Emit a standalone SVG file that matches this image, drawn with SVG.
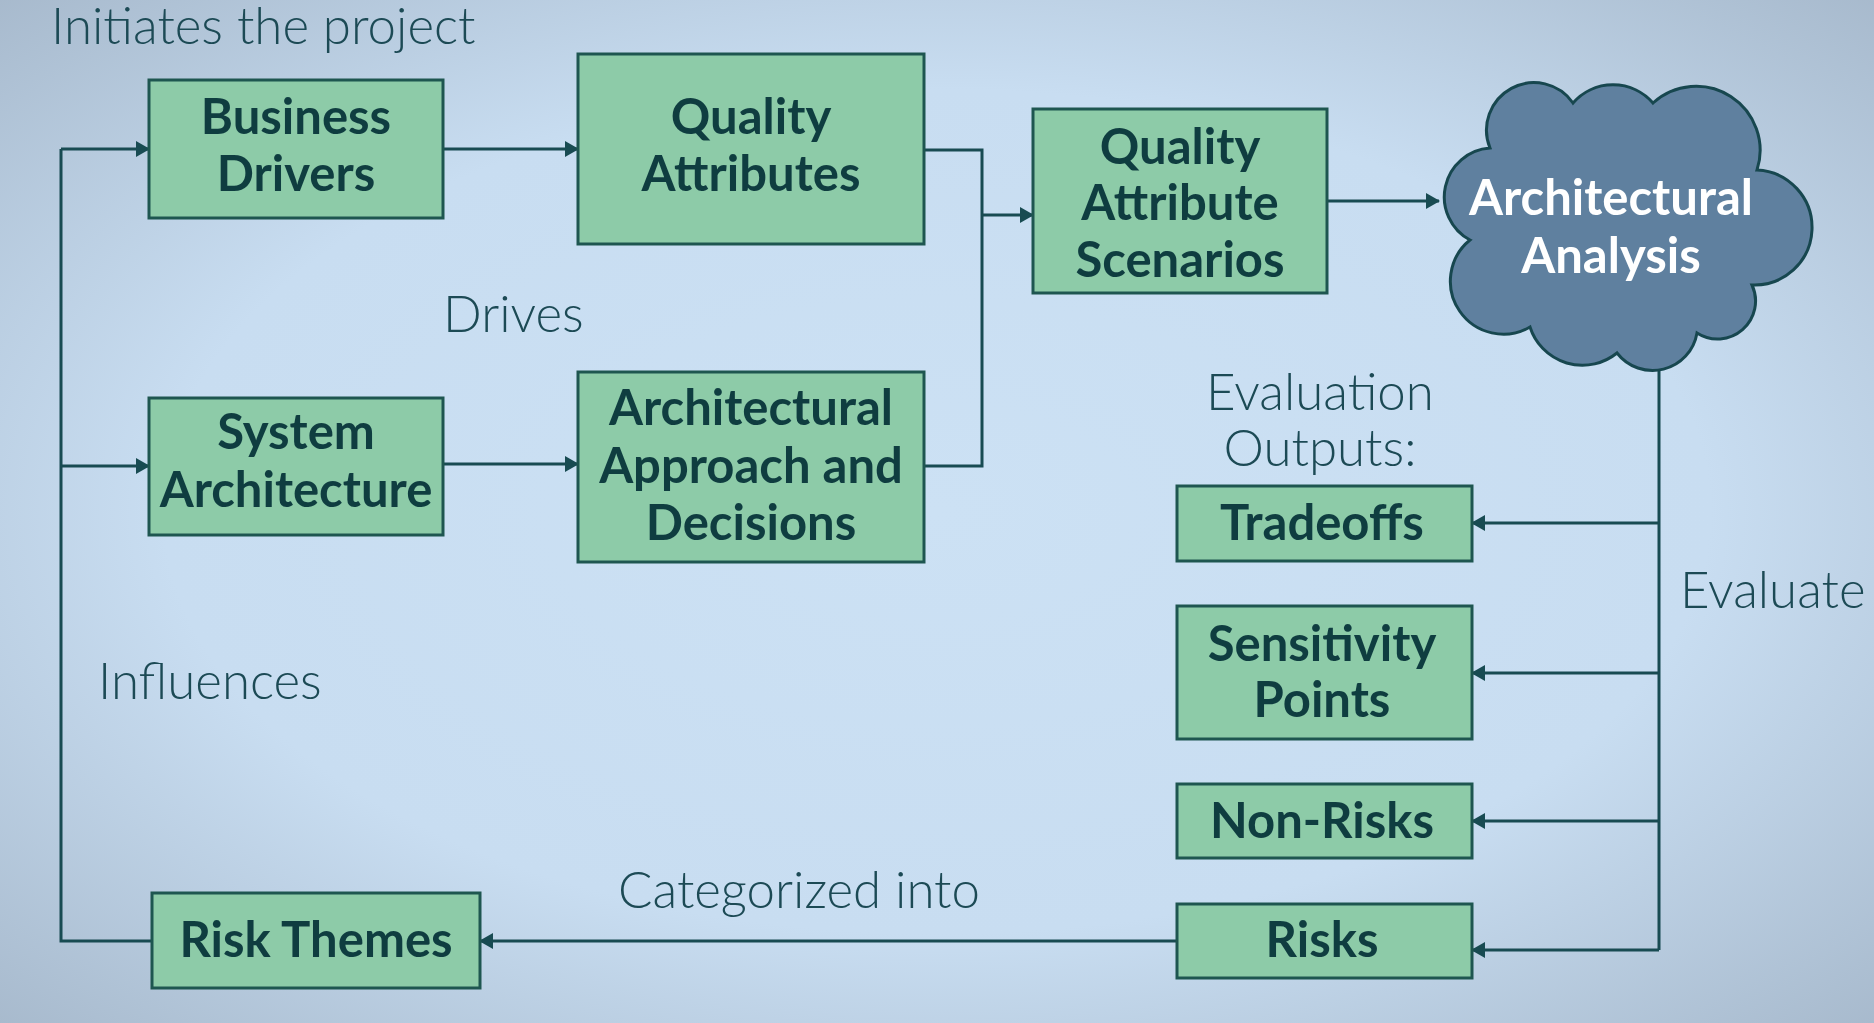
<svg xmlns="http://www.w3.org/2000/svg" width="1874" height="1023" viewBox="0 0 1874 1023">
<defs>
<radialGradient id="bg" cx="50%" cy="50%" r="75%">
<stop offset="0" stop-color="#cce1f4"/>
<stop offset="0.55" stop-color="#c8ddf1"/>
<stop offset="1" stop-color="#a3b5c8"/>
</radialGradient>
<marker id="ah" viewBox="0 0 14 16" refX="13" refY="8" markerWidth="14" markerHeight="16" markerUnits="userSpaceOnUse" orient="auto">
<path d="M0,0 L14,8 L0,16 Z" fill="#184b52"/>
</marker>
<style>
.box{fill:#8dcba8;stroke:#1e5650;stroke-width:3}
.bt{font-family:Lato,"Open Sans",sans-serif;font-weight:700;font-size:49px;fill:#0f3d40;text-anchor:middle}
.lbl{font-family:Lato,"Open Sans",sans-serif;font-weight:300;font-size:51px;fill:#1c4a55}
.ln{fill:none;stroke:#184b52;stroke-width:3}
.ar{fill:none;stroke:#184b52;stroke-width:3;marker-end:url(#ah)}
</style>
</defs>
<rect width="1874" height="1023" fill="url(#bg)"/>

<g id="connectors">
<polyline class="ln" points="152,941 61,941 61,149"/>
<line class="ar" x1="61" y1="149" x2="149" y2="149"/>
<line class="ar" x1="61" y1="466" x2="149" y2="466"/>
<line class="ar" x1="443" y1="149" x2="578" y2="149"/>
<line class="ar" x1="443" y1="464" x2="578" y2="464"/>
<polyline class="ln" points="924,150 982,150 982,466 924,466"/>
<line class="ar" x1="982" y1="215" x2="1033" y2="215"/>
<line class="ar" x1="1327" y1="201" x2="1439" y2="201"/>
<polyline class="ln" points="1659,362 1659,950"/>
<line class="ar" x1="1659" y1="523" x2="1472" y2="523"/>
<line class="ar" x1="1659" y1="673" x2="1472" y2="673"/>
<line class="ar" x1="1659" y1="821" x2="1472" y2="821"/>
<line class="ar" x1="1659" y1="950" x2="1472" y2="950"/>
<line class="ar" x1="1177" y1="941" x2="480" y2="941"/>
</g>

<g id="labels">
<text class="lbl" x="51" y="44">Initiates the project</text>
<text class="lbl" x="443" y="332">Drives</text>
<text class="lbl" x="98" y="699">Influences</text>
<text class="lbl" x="1320" y="410" text-anchor="middle">Evaluation</text>
<text class="lbl" x="1320" y="466" text-anchor="middle">Outputs:</text>
<text class="lbl" x="1680" y="608">Evaluate</text>
<text class="lbl" x="618" y="908">Categorized into</text>
</g>

<g id="business-drivers">
<rect class="box" x="149" y="80" width="294" height="138"/>
<text class="bt" x="296" y="134">Business</text>
<text class="bt" x="296" y="191">Drivers</text>
</g>
<g id="quality-attributes">
<rect class="box" x="578" y="54" width="346" height="190"/>
<text class="bt" x="751" y="134">Quality</text>
<text class="bt" x="751" y="191">Attributes</text>
</g>
<g id="system-architecture">
<rect class="box" x="149" y="398" width="294" height="137"/>
<text class="bt" x="296" y="449">System</text>
<text class="bt" x="296" y="507">Architecture</text>
</g>
<g id="approach-decisions">
<rect class="box" x="578" y="372" width="346" height="190"/>
<text class="bt" x="751" y="425">Architectural</text>
<text class="bt" x="751" y="483">Approach and</text>
<text class="bt" x="751" y="540">Decisions</text>
</g>
<g id="qa-scenarios">
<rect class="box" x="1033" y="109" width="294" height="184"/>
<text class="bt" x="1180" y="164">Quality</text>
<text class="bt" x="1180" y="220">Attribute</text>
<text class="bt" x="1180" y="277">Scenarios</text>
</g>
<g id="architectural-analysis">
<path d="M1490,148 A47.5,47.5 0 0 1 1573,103 A53,53 0 0 1 1653,103 A64,64 0 0 1 1757,170 A57,57 0 0 1 1752,285 A38,38 0 0 1 1697,333 A45,45 0 0 1 1617,353 A55,55 0 0 1 1530,327 A53,53 0 0 1 1470,240 A49,49 0 0 1 1490,148 Z" fill="#5f809f" stroke="#17474f" stroke-width="3"/>
<text x="1611" y="215" font-family="Lato,'Open Sans',sans-serif" font-weight="700" font-size="49" fill="#ffffff" text-anchor="middle">Architectural</text>
<text x="1611" y="273" font-family="Lato,'Open Sans',sans-serif" font-weight="700" font-size="49" fill="#ffffff" text-anchor="middle">Analysis</text>
</g>
<g id="tradeoffs">
<rect class="box" x="1177" y="486" width="295" height="75"/>
<text class="bt" x="1322" y="540">Tradeoffs</text>
</g>
<g id="sensitivity-points">
<rect class="box" x="1177" y="606" width="295" height="133"/>
<text class="bt" x="1322" y="661">Sensitivity</text>
<text class="bt" x="1322" y="717">Points</text>
</g>
<g id="non-risks">
<rect class="box" x="1177" y="784" width="295" height="74"/>
<text class="bt" x="1322" y="838">Non-Risks</text>
</g>
<g id="risks">
<rect class="box" x="1177" y="904" width="295" height="74"/>
<text class="bt" x="1322" y="957">Risks</text>
</g>
<g id="risk-themes">
<rect class="box" x="152" y="893" width="328" height="95"/>
<text class="bt" x="316" y="957">Risk Themes</text>
</g>
</svg>
